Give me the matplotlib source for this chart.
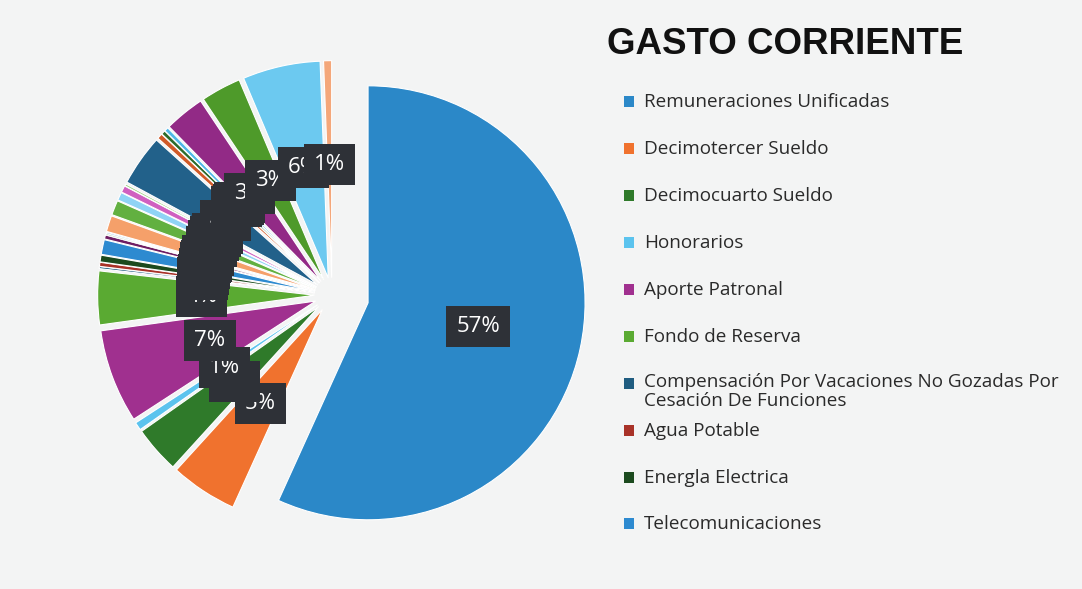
import matplotlib.pyplot as plt
from matplotlib.patches import Rectangle

# Gasto corriente: partidas (the legend only shows the first ten)
categories = [
    'Remuneraciones Unificadas',
    'Decimotercer Sueldo',
    'Decimocuarto Sueldo',
    'Honorarios',
    'Aporte Patronal',
    'Fondo de Reserva',
    'Compensación Por Vacaciones No Gozadas Por\nCesación De Funciones',
    'Agua Potable',
    'Energla Electrica',
    'Telecomunicaciones',
    'Servicio de Correo',
    'Edición e Impresión',
    'Difusión e Información',
    'Servicio de Aseo',
    'Seguridad y Vigilancia',
    'Pasajes al Interior',
    'Viáticos en el Interior',
    'Mantenimiento de Edificios',
    'Arrendamiento de Edificios',
    'Mantenimiento de Vehículos',
    'Combustibles y Lubricantes',
    'Materiales de Oficina',
    'Servicios Informáticos',
    'Consultoría y Asesoría',
    'Seguros',
    'Comisiones Bancarias',
]
shares = [57.0, 5.0, 3.5, 0.6, 7.0, 4.0, 0.15, 0.3, 0.5, 1.1, 0.3, 0.1, 0.1,
          1.2, 1.1, 0.6, 0.5, 0.15, 3.8, 0.4, 0.3, 0.3, 3.0, 3.0, 5.8, 0.6]
colors = ['#2B88C8', '#F0722E', '#2F7A2A', '#5BC3EE', '#A0308F', '#5AAA32',
          '#1F5C80', '#A83228', '#1B4A1E', '#2D8AD0', '#6E1E63', '#3A7A22',
          '#4E9BD0', '#F5A06A', '#62B040', '#8FD3F5', '#D060C0', '#9BD080',
          '#22618A', '#D05A28', '#2C6B2A', '#4FB8E8', '#922A86', '#4E9A2A',
          '#6CC9F0', '#F4A77A']
n_legend = 10

bg = '#F3F4F4'
fig = plt.figure(figsize=(10.82, 5.89), dpi=100, facecolor=bg)

# pie axes: centre near (332, 295) px, radius ~217 px
r_px = 217
half = 1.3 * r_px
cx, cy = 332, 295
ax = fig.add_axes([(cx - half) / 1082, (589 - cy - half) / 589, 2 * half / 1082, 2 * half / 589])
ax.set_facecolor(bg)

explode = [0.17] + [0.08] * (len(shares) - 1)
wedges, texts, autotexts = ax.pie(
    shares, colors=colors, explode=explode, startangle=90, counterclock=False,
    autopct='%1.0f%%', pctdistance=0.52,
    wedgeprops=dict(edgecolor='white', linewidth=0.8),
    textprops=dict(family='Open Sans', fontsize=16, color='white'))
for t in autotexts:
    t.set_bbox(dict(boxstyle='square,pad=0.45', fc='#2E3137', ec='none'))
ax.set_xlim(-1.3, 1.3)
ax.set_ylim(-1.3, 1.3)
ax.set_aspect('equal')
ax.axis('off')

fig.text(607 / 1082, 1 - 45 / 589, 'GASTO CORRIENTE', ha='left', va='center',
         fontsize=26.5, fontweight='bold', color='#111111',
         family=['Liberation Sans Narrow', 'Liberation Sans'])

# legend, drawn by hand to follow the original spacing
rows = [102, 149, 196, 243, 290, 337, 384, 431, 478, 524]
for i in range(n_legend):
    y = rows[i]
    fig.patches.append(Rectangle((624 / 1082, 1 - (y + 5) / 589), 10 / 1082, 11 / 589,
                                 transform=fig.transFigure, fc=colors[i], ec='none'))
    if '\n' in categories[i]:
        fig.text(644 / 1082, 1 - (y - 11) / 589, categories[i], ha='left', va='top',
                 fontsize=13.6, color='#2A2A2A', family='Open Sans', linespacing=1.05)
    else:
        fig.text(644 / 1082, 1 - y / 589, categories[i], ha='left', va='center',
                 fontsize=13.6, color='#2A2A2A', family='Open Sans')

fig.savefig('out.png', dpi=100, facecolor=bg)
